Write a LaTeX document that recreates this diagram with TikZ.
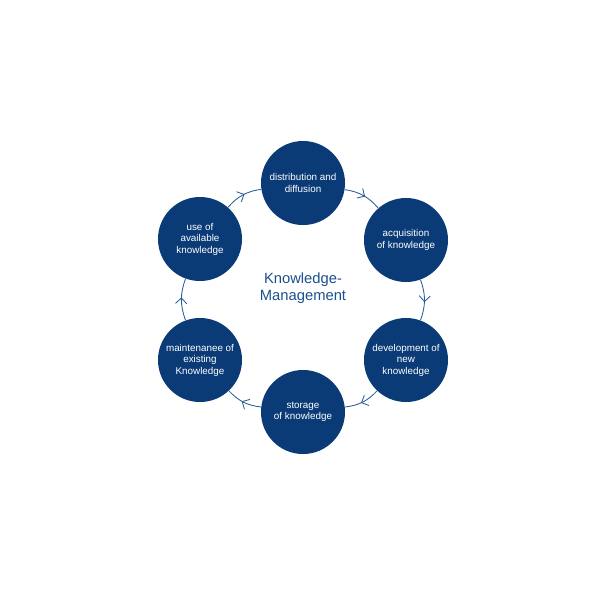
\documentclass[tikz,border=0pt]{standalone}
\usepackage{fontspec}
\setmainfont{Liberation Sans}
\usetikzlibrary{arrows.meta,decorations.markings}
\definecolor{kmblue}{HTML}{0A3B77}
\definecolor{kmtitle}{HTML}{1B4F8E}
\definecolor{kmline}{HTML}{2A5C97}
\tikzset{
  phase/.style={circle, fill=kmblue, draw=none, minimum size=2.1cm, inner sep=0pt,
    text=white, align=center, font=\fontsize{7}{8.2}\selectfont},
  flow/.style={draw=kmline, line width=0.6pt,
    postaction={decorate},
    decoration={markings, mark=at position 0.55 with {\arrow[kmline, line width=0.6pt]{Straight Barb[length=4pt,width=8pt]}}}},
}
\begin{document}
\begin{tikzpicture}[x=0.025cm,y=-0.025cm]
\useasboundingbox (0,0) rectangle (600,600);
\node[phase] (dist) at (303,183) {distribution and\\diffusion};
\node[phase] (acq)  at (406,240) {acquisition\\of knowledge};
\node[phase] (dev)  at (406,360) {development of\\new\\knowledge};
\node[phase] (stor) at (303,412) {storage\\of knowledge};
\node[phase] (main) at (200,360) {maintenanee of\\existing\\Knowledge};
\node[phase] (use)  at (200,239) {use of\\available\\knowledge};
\node[text=kmtitle, align=center, font=\fontsize{10.5}{12.5}\selectfont] (title) at (303,288) {Knowledge-\\Management};
\path[flow] (dist) to[bend left=20] (acq);
\path[flow] (acq)  to[bend left=20] (dev);
\path[flow] (dev)  to[bend left=20] (stor);
\path[flow] (stor) to[bend left=20] (main);
\path[flow] (main) to[bend left=20] (use);
\path[flow] (use)  to[bend left=20] (dist);
\end{tikzpicture}
\end{document}
